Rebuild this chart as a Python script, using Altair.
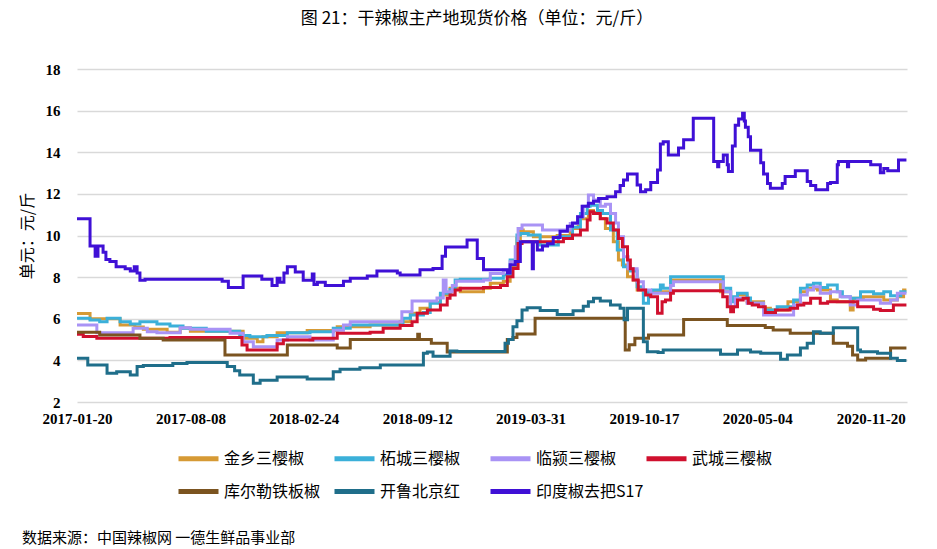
import altair as alt
import pandas as pd

TITLE = "图 21：干辣椒主产地现货价格（单位：元/斤）"
FOOTER = "数据来源：中国辣椒网 一德生鲜品事业部"
Y_TITLE = "单元：元/斤"

SERIES = ["金乡三樱椒", "柘城三樱椒", "临颍三樱椒", "武城三樱椒", "库尔勒铁板椒", "开鲁北京红", "印度椒去把S17"]
COLORS = ["#D69A35", "#3BB0D9", "#A993F5", "#D0102E", "#7B5420", "#1F6E8A", "#3F10D6"]

X_TICKS = ["2017-01-20", "2017-08-08", "2018-02-24", "2018-09-12", "2019-03-31", "2019-10-17", "2020-05-04", "2020-11-20"]
Y_TICKS = [2, 4, 6, 8, 10, 12, 14, 16, 18]
END_DATE = "2021-01-22"

# ---- 金乡三樱椒 ----
jx_dates = ["2017-01-20", "2017-02-12", "2017-04-06", "2017-05-02", "2017-05-17", "2017-06-28", "2017-07-21",
            "2017-08-08", "2017-11-09", "2017-12-04", "2017-12-14", "2018-01-08", "2018-03-02", "2018-04-24",
            "2018-06-21", "2018-08-13", "2018-08-31", "2018-09-17", "2018-10-05", "2018-10-23", "2018-11-09",
            "2018-11-27", "2019-01-07", "2019-01-19", "2019-02-11", "2019-02-23", "2019-03-07", "2019-03-13",
            "2019-03-18", "2019-04-05", "2019-05-17", "2019-06-09", "2019-06-23", "2019-07-11", "2019-07-20",
            "2019-08-01", "2019-08-10", "2019-08-24", "2019-09-02", "2019-09-09", "2019-09-18", "2019-09-28",
            "2019-10-05", "2019-10-16", "2019-10-29", "2019-12-03", "2019-12-08", "2020-02-29", "2020-03-18",
            "2020-03-30", "2020-04-16", "2020-05-15", "2020-05-27", "2020-06-27", "2020-07-19", "2020-07-31",
            "2020-08-18", "2020-09-10", "2020-09-22", "2020-10-15", "2020-10-20", "2020-11-07", "2020-12-13",
            "2021-01-06", "2021-01-17"]
jx_vals = [6.25, 6.0, 5.7, 5.6, 5.5, 5.35, 5.55,
           5.4, 5.06, 4.9, 5.13, 5.33, 5.43, 5.62,
           5.7, 5.86, 6.26, 6.5, 6.78, 7.14, 7.46,
           7.3, 7.46, 7.7, 7.8, 8.5, 9.86, 10.26,
           10.18, 9.94, 10.0, 10.34, 10.8, 11.2, 11.1,
           10.82, 10.34, 9.7, 8.82, 8.58, 8.02, 7.86,
           7.38, 7.22, 7.3, 7.78, 7.86, 7.3, 6.9,
           7.14, 6.82, 6.5, 6.42, 6.82, 7.3, 7.46,
           7.38, 6.9, 6.82, 6.42, 6.98, 7.06, 6.9,
           7.06, 7.38]

# ---- 柘城三樱椒 ----
zc_dates = ["2017-01-20", "2017-02-12", "2017-03-01", "2017-03-14", "2017-04-06", "2017-04-24", "2017-05-11",
            "2017-06-10", "2017-07-03", "2017-07-26", "2017-09-05", "2017-11-03", "2017-11-21", "2017-12-21",
            "2018-01-26", "2018-03-07", "2018-04-17", "2018-05-17", "2018-08-18", "2018-08-31", "2018-09-23",
            "2018-10-05", "2018-10-23", "2018-11-09", "2018-11-18", "2018-11-27", "2019-01-19", "2019-02-11",
            "2019-02-23", "2019-03-07", "2019-03-13", "2019-03-27", "2019-04-17", "2019-05-19", "2019-06-13",
            "2019-06-27", "2019-07-09", "2019-07-14", "2019-07-27", "2019-08-05", "2019-08-19", "2019-08-31",
            "2019-09-11", "2019-09-23", "2019-10-05", "2019-10-16", "2019-10-25", "2019-11-01", "2019-11-15",
            "2019-11-20", "2019-12-03", "2020-03-05", "2020-03-18", "2020-03-23", "2020-03-30", "2020-04-16",
            "2020-04-22", "2020-05-15", "2020-06-08", "2020-07-07", "2020-07-19", "2020-07-31", "2020-08-11",
            "2020-08-23", "2020-09-05", "2020-09-22", "2020-10-01", "2020-10-15", "2020-11-02", "2020-11-25",
            "2020-12-13", "2020-12-25", "2021-01-12"]
zc_vals = [6.02, 5.94, 5.85, 6.02, 5.86, 5.75, 5.86,
           5.75, 5.65, 5.54, 5.4, 5.2, 5.13, 5.2,
           5.33, 5.38, 5.54, 5.7, 6.02, 6.18, 6.3,
           6.74, 7.22, 7.4, 7.86, 7.9, 7.94, 8.1,
           8.82, 10.02, 10.1, 10.02, 9.54, 9.94, 10.4,
           11.06, 11.4, 11.45, 11.2, 11.06, 10.26, 9.3,
           8.5, 8.3, 7.54, 6.74, 7.3, 7.38, 7.62,
           7.46, 8.02, 7.46, 6.82, 7.06, 7.22, 7.0,
           6.74, 6.42, 6.58, 6.9, 7.46, 7.62, 7.7,
           7.5, 7.62, 7.3, 7.06, 6.98, 7.3, 7.2,
           7.3, 7.1, 7.3]

# ---- 临颍三樱椒 ----
ly_dates = ["2017-01-20", "2017-02-24", "2017-04-29", "2017-05-24", "2017-06-10", "2017-07-21", "2017-08-08",
            "2017-09-03", "2017-10-17", "2017-11-09", "2017-11-27", "2018-01-08", "2018-01-26", "2018-03-07",
            "2018-04-17", "2018-05-05", "2018-05-17", "2018-08-16", "2018-09-03", "2018-10-17", "2018-10-28",
            "2018-11-02", "2018-11-13", "2018-11-20", "2019-01-07", "2019-01-19", "2019-02-11", "2019-02-23",
            "2019-03-04", "2019-03-09", "2019-03-16", "2019-04-21", "2019-06-09", "2019-06-22", "2019-07-02",
            "2019-07-11", "2019-07-20", "2019-08-01", "2019-08-10", "2019-08-19", "2019-08-28", "2019-09-02",
            "2019-09-11", "2019-09-19", "2019-10-05", "2019-10-16", "2019-10-29", "2019-12-03", "2019-12-08",
            "2020-03-05", "2020-03-18", "2020-03-26", "2020-04-16", "2020-05-15", "2020-07-07", "2020-07-19",
            "2020-07-31", "2020-08-11", "2020-08-23", "2020-09-10", "2020-09-27", "2020-10-15", "2020-10-28",
            "2020-12-07", "2020-12-25", "2021-01-06"]
ly_vals = [5.7, 5.33, 5.54, 5.38, 5.33, 5.57, 5.49,
           5.5, 5.3, 4.9, 4.66, 4.98, 5.13, 4.98,
           5.45, 5.7, 5.86, 6.34, 6.85, 7.0, 7.86,
           7.3, 7.6, 7.8, 7.86, 8.18, 8.34, 8.74,
           9.46, 10.34, 10.5, 10.26, 10.58, 10.9, 11.4,
           11.95, 11.7, 11.4, 11.5, 11.06, 10.6, 9.94,
           8.98, 8.4, 7.78, 7.38, 7.22, 7.6, 7.78,
           7.3, 6.58, 6.98, 6.74, 6.18, 6.66, 7.14,
           7.38, 7.54, 7.22, 7.3, 7.06, 6.66, 6.9,
           6.74, 6.9, 7.22]

# ---- 武城三樱椒 ----
wc_dates = ["2017-01-20", "2017-01-31", "2017-02-24", "2017-07-03", "2017-11-07", "2017-11-16", "2018-01-08",
            "2018-01-19", "2018-03-12", "2018-04-24", "2018-06-21", "2018-07-14", "2018-08-13", "2018-09-03",
            "2018-09-12", "2018-09-30", "2018-10-23", "2018-11-04", "2018-11-09", "2018-11-18", "2018-11-27",
            "2019-01-07", "2019-02-06", "2019-02-18", "2019-02-28", "2019-03-09", "2019-03-16", "2019-05-28",
            "2019-06-13", "2019-06-27", "2019-07-09", "2019-07-14", "2019-07-20", "2019-08-01", "2019-08-13",
            "2019-08-24", "2019-09-02", "2019-09-09", "2019-09-18", "2019-09-23", "2019-09-28", "2019-10-07",
            "2019-10-20", "2019-10-29", "2019-11-10", "2019-11-18", "2019-11-24", "2019-12-03", "2019-12-08",
            "2020-03-04", "2020-03-12", "2020-03-18", "2020-03-23", "2020-03-30", "2020-04-09", "2020-04-18",
            "2020-04-25", "2020-05-06", "2020-05-18", "2020-06-05", "2020-07-01", "2020-07-14", "2020-07-25",
            "2020-08-06", "2020-08-23", "2020-09-05", "2020-10-28", "2020-11-25", "2020-12-07", "2020-12-30"]
wc_vals = [5.25, 5.15, 5.06, 5.1, 4.74, 4.5, 4.8,
           4.98, 5.06, 5.3, 5.35, 5.54, 5.67, 5.86,
           6.26, 6.42, 6.66, 6.98, 7.14, 7.38, 7.46,
           7.5, 7.6, 8.02, 8.42, 9.62, 9.7, 9.86,
           10.02, 10.26, 10.75, 11.14, 11.06, 10.8, 10.6,
           10.26, 9.86, 9.46, 8.82, 8.4, 7.86, 7.38,
           7.14, 7.06, 6.26, 6.82, 6.9, 7.22, 7.35,
           7.06, 6.58, 6.34, 6.58, 6.9, 6.98, 6.74,
           6.66, 6.58, 6.3, 6.42, 6.5, 6.66, 6.74,
           6.98, 6.74, 6.82, 6.58, 6.46, 6.4, 6.66]

# ---- 库尔勒铁板椒 ----
kel_dates = ["2017-01-20", "2017-03-01", "2017-05-11", "2017-06-21", "2017-10-08", "2018-01-26", "2018-04-24",
             "2018-05-17", "2018-09-13", "2018-09-16", "2018-10-07", "2018-11-04", "2019-02-18", "2019-02-28",
             "2019-03-07", "2019-04-08", "2019-09-14", "2019-09-21", "2019-10-01", "2019-10-25", "2019-12-26",
             "2020-03-12", "2020-05-18", "2020-06-01", "2020-07-01", "2020-09-15", "2020-10-10", "2020-10-19",
             "2020-10-28", "2020-11-11", "2020-12-25"]
kel_vals = [5.35, 5.22, 5.06, 4.98, 4.26, 4.74, 4.6,
            5.0, 5.25, 5.0, 4.82, 4.4, 5.0, 5.1,
            5.27, 6.02, 4.5, 4.75, 5.06, 5.22, 5.96,
            5.68, 5.58, 5.46, 5.3, 4.82, 4.68, 4.26,
            4.02, 4.1, 4.6]

# ---- 开鲁北京红 ----
kl_dates = ["2017-01-20", "2017-02-08", "2017-03-14", "2017-03-31", "2017-04-24", "2017-05-06", "2017-05-17",
            "2017-07-08", "2017-08-02", "2017-10-12", "2017-10-25", "2017-11-03", "2017-11-27", "2017-12-09",
            "2018-01-08", "2018-03-02", "2018-04-17", "2018-04-29", "2018-06-03", "2018-07-09", "2018-09-23",
            "2018-09-30", "2018-10-10", "2018-11-09", "2018-11-21", "2019-02-14", "2019-02-20", "2019-02-28",
            "2019-03-07", "2019-03-16", "2019-03-25", "2019-04-17", "2019-05-17", "2019-06-14", "2019-07-02",
            "2019-07-11", "2019-07-20", "2019-08-01", "2019-08-19", "2019-09-05", "2019-09-12", "2019-09-18",
            "2019-10-16", "2019-10-23", "2019-11-11", "2019-11-20", "2020-02-29", "2020-03-30", "2020-04-22",
            "2020-05-10", "2020-06-14", "2020-06-26", "2020-07-19", "2020-07-31", "2020-08-11", "2020-08-23",
            "2020-09-15", "2020-10-28", "2020-11-02", "2020-12-02", "2020-12-25", "2021-01-06"]
kl_vals = [4.1, 3.78, 3.38, 3.45, 3.3, 3.7, 3.75,
           3.85, 3.9, 3.7, 3.5, 3.3, 2.9, 3.05,
           3.2, 3.1, 3.45, 3.57, 3.65, 3.78, 4.34,
           4.4, 4.2, 4.45, 4.43, 4.82, 5.0, 5.62,
           5.9, 6.42, 6.53, 6.4, 6.2, 6.38, 6.6,
           6.82, 6.98, 6.85, 6.66, 6.5, 5.95, 6.5,
           4.9, 4.42, 4.38, 4.5, 4.3, 4.5, 4.4,
           4.34, 4.05, 4.26, 4.6, 4.82, 5.38, 5.3,
           5.57, 4.5, 4.42, 4.34, 4.1, 4.0]

# ---- 印度椒去把S17 ----
s17_dates = ["2017-01-20", "2017-02-12", "2017-02-21", "2017-02-26", "2017-03-07", "2017-03-12", "2017-03-19",
             "2017-03-30", "2017-04-15", "2017-04-24", "2017-05-01", "2017-05-06", "2017-05-11", "2017-05-20",
             "2017-10-03", "2017-10-14", "2017-11-09", "2017-12-12", "2017-12-30", "2018-01-08", "2018-01-13",
             "2018-01-20", "2018-01-26", "2018-02-09", "2018-02-23", "2018-03-11", "2018-03-14", "2018-03-20",
             "2018-04-03", "2018-05-05", "2018-05-17", "2018-06-16", "2018-07-03", "2018-08-08", "2018-08-13",
             "2018-09-17", "2018-10-10", "2018-10-26", "2018-11-01", "2018-12-09", "2018-12-27", "2019-01-07",
             "2019-02-18", "2019-02-23", "2019-03-04", "2019-03-13", "2019-04-03", "2019-04-05", "2019-04-12",
             "2019-04-21", "2019-04-30", "2019-05-10", "2019-05-22", "2019-06-04", "2019-06-13", "2019-06-22",
             "2019-06-30", "2019-07-11", "2019-07-20", "2019-07-29", "2019-08-13", "2019-08-28", "2019-09-05",
             "2019-09-11", "2019-09-18", "2019-10-05", "2019-10-11", "2019-10-20", "2019-10-29", "2019-11-10",
             "2019-11-15", "2019-11-20", "2019-11-29", "2019-12-17", "2019-12-26", "2020-01-12", "2020-02-17",
             "2020-02-24", "2020-02-26", "2020-03-05", "2020-03-12", "2020-03-14", "2020-03-21", "2020-03-26",
             "2020-04-01", "2020-04-08", "2020-04-11", "2020-04-13", "2020-04-18", "2020-04-22", "2020-05-10",
             "2020-05-15", "2020-05-22", "2020-05-27", "2020-06-17", "2020-06-22", "2020-07-10", "2020-07-31",
             "2020-08-06", "2020-08-15", "2020-09-05", "2020-09-10", "2020-09-22", "2020-09-24", "2020-10-10",
             "2020-10-12", "2020-11-20", "2020-12-07", "2020-12-13", "2020-12-20", "2021-01-08"]
s17_vals = [10.8, 9.5, 9.0, 9.5, 9.2, 8.85, 8.75,
            8.5, 8.4, 8.3, 8.5, 8.2, 7.85, 7.9,
            7.8, 7.5, 8.05, 7.9, 7.6, 7.95, 7.75,
            8.2, 8.5, 8.25, 7.85, 8.15, 7.65, 7.75,
            7.6, 7.8, 7.95, 8.05, 8.3, 8.2, 8.1,
            8.35, 8.42, 9.0, 9.45, 9.78, 8.9, 8.35,
            8.2, 8.6, 8.75, 9.7, 8.4, 9.7, 9.3,
            9.5, 9.6, 9.9, 10.2, 10.45, 10.6, 10.9,
            11.4, 11.55, 11.65, 11.78, 11.86, 12.1, 12.4,
            12.67, 12.95, 12.43, 12.1, 12.2, 12.55, 13.15,
            14.4, 14.5, 13.87, 14.2, 14.6, 15.63, 13.55,
            13.3, 13.55, 13.87, 13.4, 13.07, 14.3, 15.3,
            15.6, 15.87, 15.5, 15.2, 14.75, 14.1, 13.5,
            12.95, 12.5, 12.27, 12.5, 12.83, 13.11, 12.6,
            12.4, 12.2, 12.5, 12.55, 13.4, 13.55, 13.3,
            13.55, 13.4, 13.02, 13.22, 13.11, 13.63]

ALL = [(SERIES[0], jx_dates, jx_vals), (SERIES[1], zc_dates, zc_vals), (SERIES[2], ly_dates, ly_vals),
       (SERIES[3], wc_dates, wc_vals), (SERIES[4], kel_dates, kel_vals), (SERIES[5], kl_dates, kl_vals),
       (SERIES[6], s17_dates, s17_vals)]

rows = []
for name, ds, vs in ALL:
    for d, v in zip(ds, vs):
        rows.append({"series": name, "date": d, "value": v})
    rows.append({"series": name, "date": END_DATE, "value": vs[-1]})
df = pd.DataFrame(rows)


def dt(s):
    y, m, d = s.split("-")
    return alt.DateTime(year=int(y), month=int(m), date=int(d), utc=True)


FONT_CJK = "Noto Sans CJK SC"
FONT_NUM = "Liberation Serif"

x_enc = alt.X(
    "date:T",
    scale=alt.Scale(type="utc", domain=[dt("2017-01-20"), dt("2021-01-23")]),
    axis=alt.Axis(values=[dt(s) for s in X_TICKS], format="%Y-%m-%d", title=None, grid=False,
                  domain=False, ticks=False, labelFlush=False, labelOverlap=False,
                  labelFont=FONT_NUM, labelFontWeight="bold", labelFontSize=15, labelColor="#000000",
                  labelPadding=9),
)
y_enc = alt.Y(
    "value:Q",
    scale=alt.Scale(domain=[2, 18], nice=False, zero=False),
    axis=alt.Axis(values=Y_TICKS, title=Y_TITLE, grid=True, gridColor="#D9D9D9", gridWidth=1.5,
                  domain=False, ticks=False, labelFont=FONT_NUM, labelFontWeight="bold", labelFontSize=15,
                  labelColor="#000000", labelPadding=17, titleFont=FONT_CJK, titleFontSize=16,
                  titleFontWeight="normal", titleColor="#000000", titlePadding=10),
)
color_enc = alt.Color(
    "series:N",
    scale=alt.Scale(domain=SERIES, range=COLORS),
    legend=alt.Legend(title=None, orient="none", direction="horizontal", columns=4, legendX=99, legendY=367,
                      symbolType="stroke", symbolSize=1600, symbolStrokeWidth=5, labelFont=FONT_CJK,
                      labelFontSize=16, labelColor="#000000", labelOffset=3, rowPadding=-6, columnPadding=-14,
                      gridAlign="all", labelLimit=300),
)

layers = []
for name in SERIES:
    layers.append(
        alt.Chart(df).transform_filter(alt.datum.series == name)
        .mark_line(interpolate="step-after", strokeWidth=3)
        .encode(x=x_enc, y=y_enc, color=color_enc)
    )

footer_df = pd.DataFrame({"t": [FOOTER]})
footer = alt.Chart(footer_df).mark_text(align="left", baseline="middle", font=FONT_CJK, fontSize=15,
                                         color="#000000").encode(
    x=alt.value(-55), y=alt.value(469), text="t:N")

chart = alt.layer(*layers, footer).properties(
    width=830, height=333,
    title=alt.TitleParams(TITLE, font=FONT_CJK, fontSize=17, fontWeight="normal", color="#000000",
                          anchor="middle", dx=-15, offset=34),
    padding={"left": 77, "top": 69, "right": 30, "bottom": 147},
    autosize=alt.AutoSizeParams(type="none"),
).configure_view(stroke=None)

chart.save("out.html", embed_options={"renderer": "svg", "actions": False})
